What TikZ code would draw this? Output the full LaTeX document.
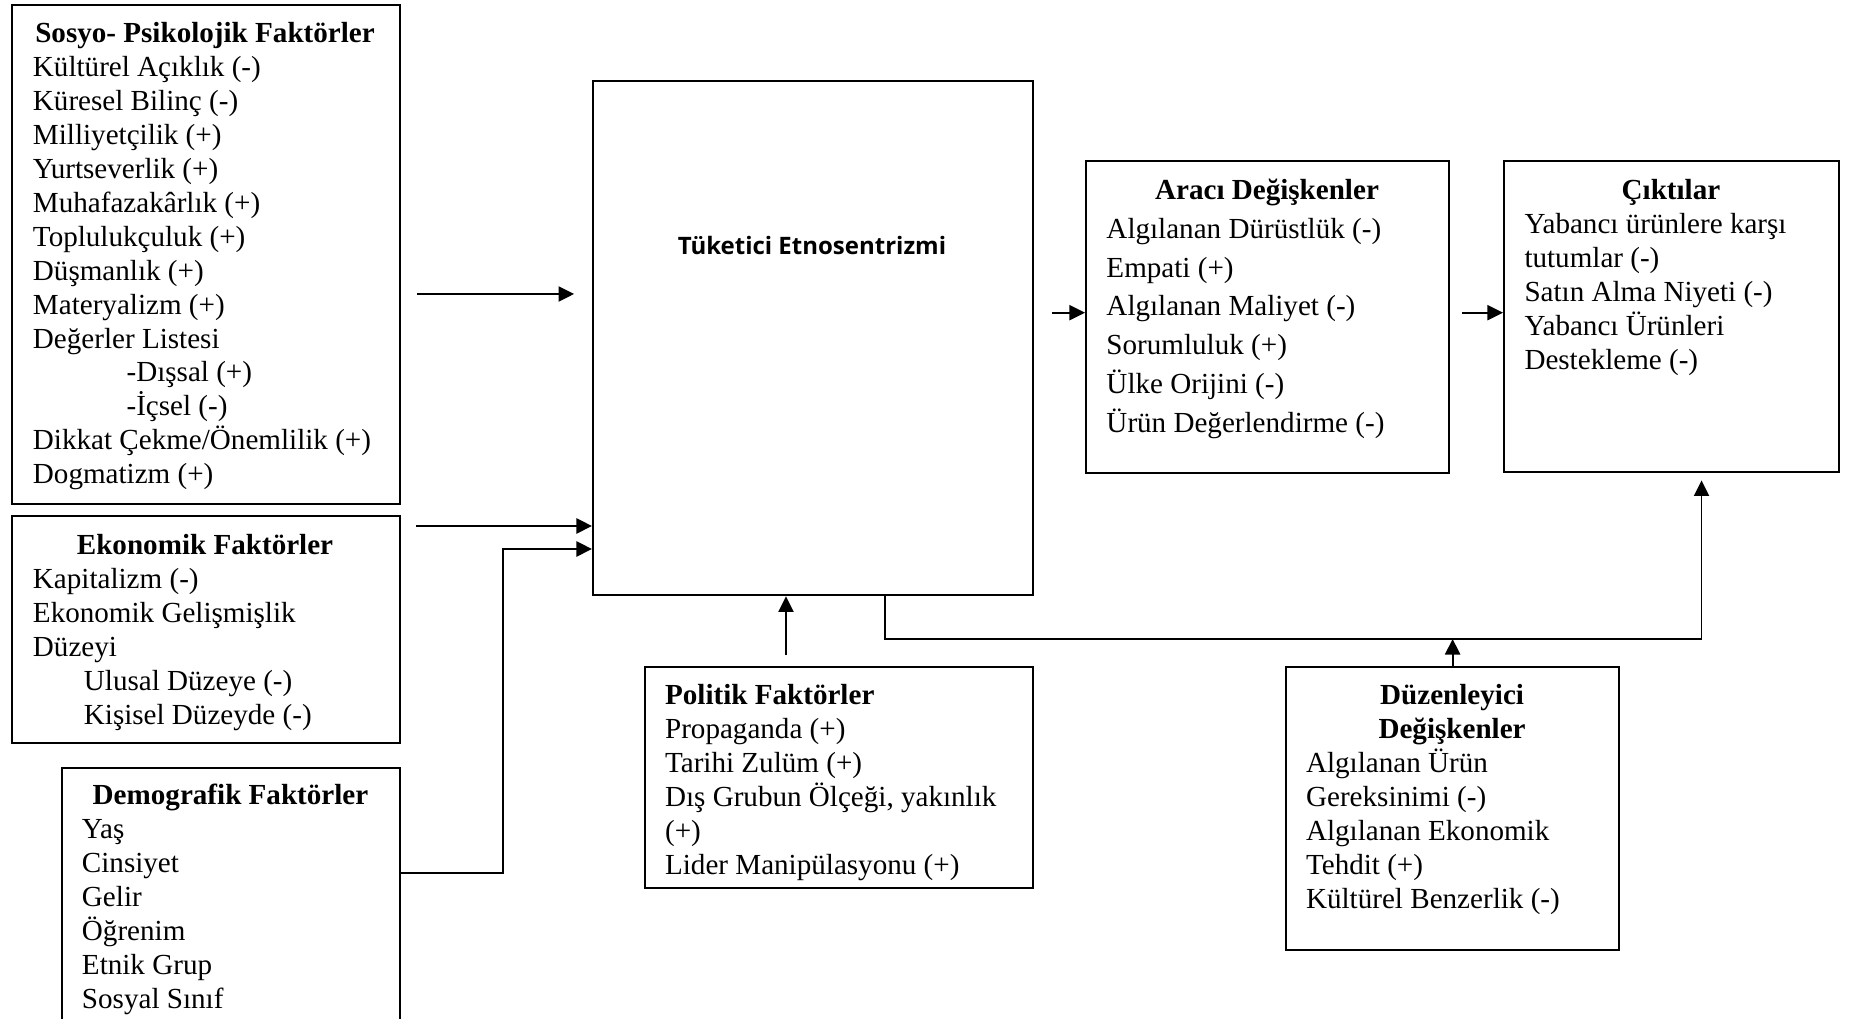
\documentclass[tikz,border=0pt]{standalone}
\usepackage{fontspec}
\setmainfont{Liberation Serif}
\newfontfamily\etnofont{Open Sans}
\usetikzlibrary{arrows.meta}
\begin{document}
\begin{tikzpicture}[x=0.4124pt,y=-0.4124pt,
    box/.style={draw,line width=0.95pt,anchor=north west,inner sep=0pt},
    txt/.style={anchor=base west,inner sep=0pt,font=\fontsize{12}{14}\selectfont},
    arr/.style={-{Triangle[length=6.4pt,width=6.2pt]},line width=0.85pt}]
  \clip (0,0) rectangle (1849,1019);
  \node[box,minimum width=160.1pt,minimum height=205.8pt] (sosyo) at (10.7,4) {};
  \node[box,minimum width=160.1pt,minimum height=93.6pt] (ekon) at (10.7,515) {};
  \node[box,minimum width=139.4pt,minimum height=119.6pt] (demog) at (61,767) {};
  \node[box,minimum width=181.5pt,minimum height=212pt] (cen) at (592,80) {};
  \node[box,minimum width=149.7pt,minimum height=128.7pt] (araci) at (1085,160) {};
  \node[box,minimum width=138.2pt,minimum height=128.3pt] (cikti) at (1503,160) {};
  \node[box,minimum width=160pt,minimum height=91.1pt] (polit) at (644,666) {};
  \node[box,minimum width=137.3pt,minimum height=116.7pt] (duzen) at (1285,666) {};
  \node[txt] (sosyo-t) at (32.5,42.5) {\parbox[t]{141.9pt}{\centering\textbf{Sosyo- Psikolojik Faktörler}\par\raggedright
    Kültürel Açıklık (-)\\ Küresel Bilinç (-)\\ Milliyetçilik (+)\\ Yurtseverlik (+)\\
    Muhafazakârlık (+)\\ Toplulukçuluk (+)\\ Düşmanlık (+)\\ Materyalizm (+)\\ Değerler Listesi\\
    \hspace*{38.6pt}-Dışsal (+)\\ \hspace*{38.6pt}-İçsel (-)\\ Dikkat Çekme/Önemlilik (+)\\ Dogmatizm (+)}};
  \node[txt] (ekon-t) at (32.5,554.5) {\parbox[t]{141.9pt}{\centering\textbf{Ekonomik Faktörler}\par\raggedright
    Kapitalizm (-)\\ Ekonomik Gelişmişlik\\ Düzeyi\\
    \hspace*{21pt}Ulusal Düzeye (-)\\ \hspace*{21pt}Kişisel Düzeyde (-)}};
  \node[txt] (demog-t) at (81.5,804.5) {\parbox[t]{122.5pt}{\centering\textbf{Demografik Faktörler}\par\raggedright
    Yaş\\ Cinsiyet\\ Gelir\\ Öğrenim\\ Etnik Grup\\ Sosyal Sınıf}};
  \node[anchor=base,inner sep=0pt,font=\etnofont\bfseries\fontsize{9.9}{12}\selectfont] (cen-t) at (812,254.5) {Tüketici Etnosentrizmi};
  \node[txt,font=\fontsize{12}{16}\selectfont] (araci-t) at (1106,199.5) {\parbox[t]{132.4pt}{\centering\textbf{Aracı Değişkenler}\par\raggedright
    Algılanan Dürüstlük (-)\\ Empati (+)\\ Algılanan Maliyet (-)\\ Sorumluluk (+)\\ Ülke Orijini (-)\\ Ürün Değerlendirme (-)}};
  \node[txt] (cikti-t) at (1524,199.5) {\parbox[t]{120.8pt}{\centering\textbf{Çıktılar}\par\raggedright
    Yabancı ürünlere karşı\\ tutumlar (-)\\ Satın Alma Niyeti (-)\\ Yabancı Ürünleri\\ Destekleme (-)}};
  \node[txt] (polit-t) at (664.6,704.5) {\parbox[t]{148.5pt}{\raggedright\textbf{Politik Faktörler}\\
    Propaganda (+)\\ Tarihi Zulüm (+)\\ Dış Grubun Ölçeği, yakınlık\\ (+)\\ Lider Manipülasyonu (+)}};
  \node[txt] (duzen-t) at (1305.6,704.5) {\parbox[t]{120.4pt}{\centering\textbf{Düzenleyici\\ Değişkenler}\par\raggedright
    Algılanan Ürün\\ Gereksinimi (-)\\ Algılanan Ekonomik\\ Tehdit (+)\\ Kültürel Benzerlik (-)}};
  \coordinate (s1) at (0,294);
  \coordinate (s2) at (0,526);
  \coordinate (d1) at (0,873);
  \coordinate (d2) at (503,549);
  \coordinate (p1) at (786,0);
  \coordinate (m1) at (0,312.7);
  \coordinate (f1) at (885,639);
  \coordinate (f2) at (1701.5,639);
  \draw[arr,shorten <=6.6pt,shorten >=7.4pt] (sosyo.east |- s1) -- (cen.west |- s1);
  \draw[arr,shorten <=6.2pt] (ekon.east |- s2) -- (cen.west |- s2);
  \draw[arr] (demog.east |- d1) -| (d2) -- (cen.west |- d2);
  \draw[arr,shorten <=4.5pt] (polit.north -| p1) -- (cen.south -| p1);
  \draw[arr,shorten <=7.4pt] (cen.east |- m1) -- (araci.west |- m1);
  \draw[arr,shorten <=5pt] (araci.east |- m1) -- (cikti.west |- m1);
  \draw[arr,line width=0.7pt,shorten >=2.9pt] (cen.south -| f1) -- (f1) -- (f2) -- (cikti.south -| f2);
  \draw[arr] (duzen.north) -- (duzen.north |- f1);
\end{tikzpicture}
\end{document}
